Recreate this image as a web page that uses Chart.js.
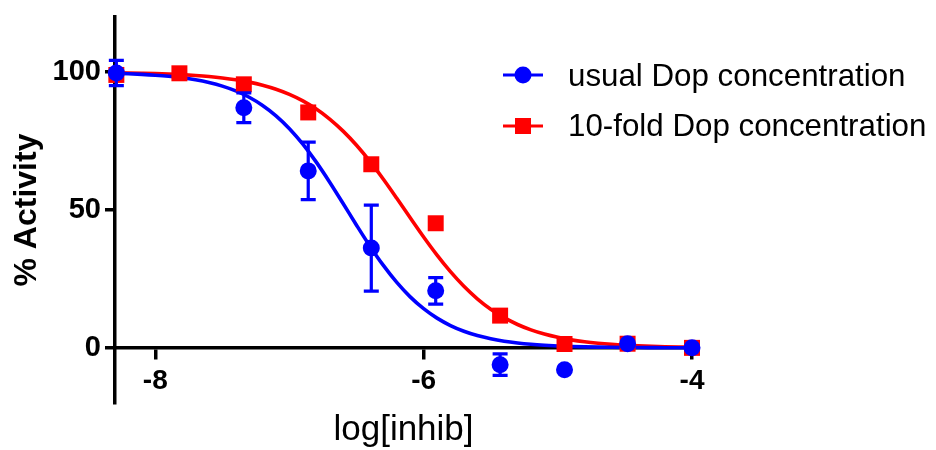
<!DOCTYPE html>
<html>
<head>
<meta charset="utf-8">
<script src="https://cdn.jsdelivr.net/npm/chart.js@4.4.1/dist/chart.umd.min.js"></script>
<style>
  body { margin: 0; background: #fff; }
</style>
</head>
<body>
<canvas id="myChart" width="936" height="450"></canvas>
<script>
// measured points (log M) and % activity
var logInhib = [-8.29, -7.82, -7.34, -6.86, -6.39, -5.91, -5.43, -4.95, -4.48, -4.00];
var usualActivity = [99.7, null, 87.1, 64.2, 36.2, 20.7, -6.1, -7.9, 1.5, 0.0];
var usualSem = [4.6, null, 5.4, 10.4, 15.6, 4.8, 3.9, 0, 0, 0];
var foldActivity = [99.0, 99.6, 95.6, 85.4, 66.6, 45.2, 11.7, 1.4, 1.5, 0.0];

// fitted curves
var curveX = [-8.3, -8.2, -8.1, -8.0, -7.9, -7.8, -7.7, -7.6, -7.5, -7.4, -7.3, -7.2, -7.1, -7.0,
  -6.9, -6.8, -6.7, -6.6, -6.5, -6.4, -6.3, -6.2, -6.1, -6.0, -5.9, -5.8, -5.7, -5.6, -5.5,
  -5.4, -5.3, -5.2, -5.1, -5.0, -4.9, -4.8, -4.7, -4.6, -4.5, -4.4, -4.3, -4.2, -4.1, -4.0];
var usualCurve = [99.57, 99.42, 99.20, 98.91, 98.52, 97.98, 97.25, 96.26, 94.95, 93.20, 90.91, 87.94, 84.18, 79.52,
  73.90, 67.38, 60.11, 52.36, 44.50, 36.90, 29.90, 23.74, 18.50, 14.21, 10.78, 8.10, 6.04, 4.48, 3.31,
  2.43, 1.79, 1.31, 0.96, 0.70, 0.51, 0.37, 0.27, 0.20, 0.15, 0.11, 0.08, 0.06, 0.04, 0.03];
var foldCurve = [99.78, 99.71, 99.61, 99.49, 99.32, 99.10, 98.81, 98.43, 97.92, 97.26, 96.39, 95.27, 93.82, 91.95,
  89.60, 86.64, 83.01, 78.63, 73.50, 67.63, 61.15, 54.25, 47.17, 40.22, 33.64, 27.63, 22.34, 17.81, 14.03,
  10.95, 8.48, 6.52, 4.99, 3.81, 2.90, 2.20, 1.67, 1.26, 0.95, 0.72, 0.54, 0.41, 0.31, 0.23];

var xTicks = [-8, -6, -4];
var yTicks = [0, 50, 100];
var seriesNames = ['usual Dop concentration', '10-fold Dop concentration'];

var BLUE = '#0000ff';
var RED = '#ff0000';
var FONT = '"Liberation Sans", Arial, sans-serif';

function pts(xs, ys) {
  return xs.map(function (x, i) { return { x: x, y: ys[i] }; });
}

var errorBars = {
  id: 'errorBars',
  afterDatasetsDraw: function (chart) {
    var ctx = chart.ctx;
    var xs = chart.scales.x, ys = chart.scales.y;
    ctx.save();
    ctx.strokeStyle = BLUE;
    ctx.lineWidth = 3.2;
    for (var i = 0; i < logInhib.length; i++) {
      var v = usualActivity[i], e = usualSem[i];
      if (v === null || !e) continue;
      var px = xs.getPixelForValue(logInhib[i]);
      var top = ys.getPixelForValue(v + e);
      var bot = ys.getPixelForValue(v - e);
      ctx.beginPath();
      ctx.moveTo(px, top); ctx.lineTo(px, bot);
      ctx.moveTo(px - 7.5, top); ctx.lineTo(px + 7.5, top);
      ctx.moveTo(px - 7.5, bot); ctx.lineTo(px + 7.5, bot);
      ctx.stroke();
    }
    ctx.restore();
  }
};

var sideLegend = {
  id: 'sideLegend',
  afterDraw: function (chart) {
    var ctx = chart.ctx;
    ctx.save();
    // row 1
    ctx.strokeStyle = BLUE; ctx.fillStyle = BLUE; ctx.lineWidth = 3.2;
    ctx.beginPath(); ctx.moveTo(503, 75); ctx.lineTo(543, 75); ctx.stroke();
    ctx.beginPath(); ctx.arc(523, 75, 8.5, 0, Math.PI * 2); ctx.fill();
    // row 2
    ctx.strokeStyle = RED; ctx.fillStyle = RED;
    ctx.beginPath(); ctx.moveTo(503, 126); ctx.lineTo(543, 126); ctx.stroke();
    ctx.fillRect(515, 118, 16, 16);
    ctx.fillStyle = '#000';
    ctx.font = '31.3px ' + FONT;
    ctx.textBaseline = 'alphabetic';
    ctx.fillText(seriesNames[0], 568, 86);
    ctx.fillText(seriesNames[1], 568, 136);
    ctx.restore();
  }
};

var ctx = document.getElementById('myChart').getContext('2d');
var chart = new Chart(ctx, {
  type: 'scatter',
  data: {
    datasets: [
      {
        label: seriesNames[0],
        data: pts(logInhib, usualActivity),
        pointStyle: 'circle',
        pointRadius: 8.5,
        pointBorderWidth: 0,
        pointBackgroundColor: BLUE,
        borderColor: BLUE,
        clip: false
      },
      {
        label: seriesNames[1],
        data: pts(logInhib, foldActivity),
        pointStyle: 'rect',
        pointRadius: 11.3,
        pointBorderWidth: 0,
        pointBackgroundColor: RED,
        borderColor: RED,
        clip: false
      },
      {
        label: 'usual fit',
        data: pts(curveX, usualCurve),
        showLine: true,
        pointRadius: 0,
        borderColor: BLUE,
        borderWidth: 3.6,
        cubicInterpolationMode: 'monotone',
        clip: false
      },
      {
        label: '10-fold fit',
        data: pts(curveX, foldCurve),
        showLine: true,
        pointRadius: 0,
        borderColor: RED,
        borderWidth: 3.6,
        cubicInterpolationMode: 'monotone',
        clip: false
      }
    ]
  },
  options: {
    responsive: false,
    animation: false,
    events: [],
    layout: { padding: { left: 0, top: 15, right: 244, bottom: 47 } },
    plugins: { legend: { display: false }, tooltip: { enabled: false } },
    scales: {
      x: {
        type: 'linear',
        position: { y: 0 },
        min: -8.3,
        max: -4,
        afterBuildTicks: function (s) { s.ticks = xTicks.map(function (v) { return { value: v }; }); },
        grid: { display: true, drawOnChartArea: false, drawTicks: true, tickLength: 10, color: '#000', lineWidth: 3.5 },
        border: { display: true, color: '#000', width: 3.5 },
        ticks: {
          color: '#000', padding: 7,
          font: { family: FONT, size: 28, weight: 'bold' },
          callback: function (v) { return String(v); }
        },
        title: {
          display: true, text: 'log[inhib]', color: '#000',
          font: { family: FONT, size: 35 },
          padding: { top: 4, bottom: 0 }
        }
      },
      y: {
        type: 'linear',
        min: -20,
        max: 120,
        afterFit: function (s) { s.width = 115; },
        afterBuildTicks: function (s) { s.ticks = yTicks.map(function (v) { return { value: v }; }); },
        grid: { display: true, drawOnChartArea: false, drawTicks: true, tickLength: 10, color: '#000', lineWidth: 3.5 },
        border: { display: true, color: '#000', width: 3.5 },
        ticks: {
          color: '#000', padding: 4,
          font: { family: FONT, size: 29, weight: 'bold', lineHeight: 0.9 }
        },
        title: {
          display: true, text: '% Activity', color: '#000',
          font: { family: FONT, size: 32, weight: 'bold' },
          padding: { top: 8, bottom: 0 }
        }
      }
    }
  },
  plugins: [errorBars, sideLegend]
});
</script>
</body>
</html>
